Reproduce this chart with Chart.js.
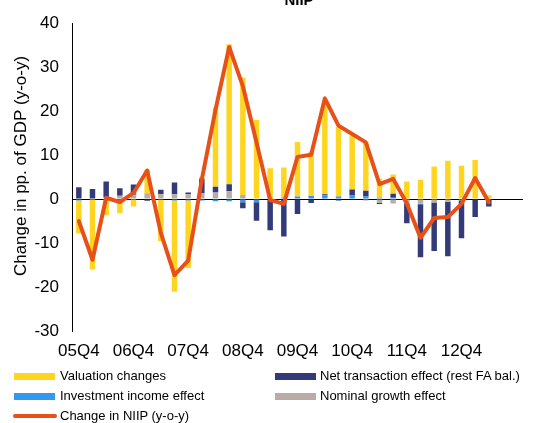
<!DOCTYPE html>
<html><head><meta charset="utf-8">
<script src="https://cdn.jsdelivr.net/npm/chart.js@4"></script>
<style>
html,body{margin:0;padding:0;background:#fff;}
#wrap{position:relative;width:545px;height:423px;overflow:hidden;}
canvas{position:absolute;left:0;top:0;}
.lt{position:absolute;font-family:"Liberation Sans",Arial,sans-serif;font-size:13px;color:#000;line-height:16px;white-space:nowrap;}
.sw{position:absolute;}
</style></head><body>
<div id="wrap">
<canvas id="c" width="545" height="423"></canvas>
<div class="sw" style="left:14px;top:373px;width:41px;height:7px;background:#FFD520"></div>
<div class="lt" style="left:60px;top:368px">Valuation changes</div>
<div class="sw" style="left:275px;top:373px;width:41px;height:7px;background:#323A78"></div>
<div class="lt" style="left:320px;top:368px">Net transaction effect (rest FA bal.)</div>
<div class="sw" style="left:14px;top:393px;width:41px;height:7px;background:#3399EE"></div>
<div class="lt" style="left:60px;top:388px">Investment income effect</div>
<div class="sw" style="left:275px;top:393px;width:41px;height:7px;background:#B8ADA6"></div>
<div class="lt" style="left:320px;top:388px">Nominal growth effect</div>
<div class="sw" style="left:13px;top:414px;width:44px;height:4px;border-radius:2px;background:#E8501A"></div>
<div class="lt" style="left:60px;top:408px">Change in NIIP (y-o-y)</div>
</div>
<script>
const quarters = ["05Q4","06Q1","06Q2","06Q3","06Q4","07Q1","07Q2","07Q3","07Q4","08Q1","08Q2","08Q3","08Q4","09Q1","09Q2","09Q3","09Q4","10Q1","10Q2","10Q3","10Q4","11Q1","11Q2","11Q3","11Q4","12Q1","12Q2","12Q3","12Q4","13Q1","13Q2","13Q3","13Q4"];
const tickLabels = ["05Q4","06Q4","07Q4","08Q4","09Q4","10Q4","11Q4","12Q4"];
const valuationChanges = [-7.5,-16.0,-3.7,-3.2,-1.7,5.3,-9.4,-20.8,-15.4,0.5,18.0,31.8,26.7,18.0,7.0,6.9,12.4,10.1,21.2,15.8,12.2,11.1,4.3,4.4,4.0,4.4,7.4,8.7,7.6,8.9,0.9,null,null];
const netTransactionEffect = [2.7,2.3,3.6,1.7,2.1,-0.4,1.0,2.7,0.4,3.3,1.3,1.6,-1.4,-4.2,-7.0,-8.5,-3.4,-0.9,0.3,-0.3,1.4,1.3,-0.2,0.9,-4.4,-12.0,-11.0,-12.4,-8.6,-4.0,-1.5,null,null];
const investmentIncomeEffect = [-0.3,0,0,0,0.4,0,-0.2,-0.3,-0.3,-0.3,-0.5,-0.5,-0.7,-0.7,-0.1,0.3,0.6,0.7,0.8,0.6,0.8,0.6,0.3,0.3,-0.2,-0.2,0,0,-0.1,-0.1,0,null,null];
const nominalGrowthEffect = [0,0,0.4,0.75,0.8,1.3,1.1,1.1,1.1,1.3,1.5,1.8,0.95,0,0,0,0,0,0,0,0,-0.3,-0.9,-1.0,-0.9,-1.0,-0.8,-0.6,-0.2,0,-0.2,null,null];
const changeInNIIP = [-5.0,-13.8,0.3,-0.7,1.4,6.5,-7.7,-17.3,-14.0,4.5,20.3,34.6,25.7,12.9,-0.2,-1.1,9.6,10.1,22.9,16.7,14.8,12.9,3.4,4.6,-1.0,-8.8,-4.3,-4.1,-1.1,4.8,-0.7,null,null];
const yTicks = [-30,-20,-10,0,10,20,30,40];

const FONT = '"Liberation Sans", Arial, sans-serif';
const textPlugin = {
  id: 'texts',
  afterDraw(chart) {
    const ctx = chart.ctx;
    ctx.save();
    ctx.fillStyle = '#000';
    ctx.font = 'bold 15px ' + FONT;
    ctx.textAlign = 'center';
    ctx.textBaseline = 'alphabetic';
    ctx.fillText('NIIP', 299, 5);
    ctx.font = '17px ' + FONT;
    ctx.translate(21, 166);
    ctx.rotate(-Math.PI / 2);
    ctx.textBaseline = 'middle';
    ctx.fillText('Change in pp. of GDP (y-o-y)', 0, 0);
    ctx.restore();
  }
};

const barCommon = {type: 'bar', stack: 'bars', barPercentage: 0.4, categoryPercentage: 1.0, order: 1};
new Chart(document.getElementById('c'), {
  data: {
    labels: quarters,
    datasets: [
      {type: 'line', label: 'Change in NIIP (y-o-y)', data: changeInNIIP, borderColor: '#E8501A', backgroundColor: '#E8501A', borderWidth: 4, pointRadius: 0, tension: 0, fill: false, borderJoinStyle: 'round', borderCapStyle: 'round', stack: 'line', order: 0},
      Object.assign({label: 'Nominal growth effect', data: nominalGrowthEffect, backgroundColor: '#B8ADA6'}, barCommon),
      Object.assign({label: 'Investment income effect', data: investmentIncomeEffect, backgroundColor: '#3399EE'}, barCommon),
      Object.assign({label: 'Net transaction effect (rest FA bal.)', data: netTransactionEffect, backgroundColor: '#323A78'}, barCommon),
      Object.assign({label: 'Valuation changes', data: valuationChanges, backgroundColor: '#FFD520'}, barCommon)
    ]
  },
  options: {
    responsive: false,
    animation: false,
    devicePixelRatio: 1,
    layout: {padding: {left: 0, right: 22, top: 22, bottom: 62}},
    plugins: {legend: {display: false}, tooltip: {enabled: false}, title: {display: false}},
    scales: {
      x: {
        stacked: true,
        grid: {display: false, drawTicks: false},
        border: {display: false},
        ticks: {autoSkip: false, maxRotation: 0, minRotation: 0, color: '#000', font: {family: FONT, size: 17}, padding: 10,
          callback: (v, i) => (tickLabels.includes(quarters[i]) ? quarters[i] : '')},
        afterFit: s => { s.height = 30; }
      },
      y: {
        stacked: true,
        min: -30, max: 40,
        afterBuildTicks: s => { s.ticks = yTicks.map(v => ({value: v})); },
        ticks: {color: '#000', font: {family: FONT, size: 17}, padding: 13},
        grid: {drawTicks: false, lineWidth: 1, color: c => (c.tick && c.tick.value === 0 ? '#000' : 'rgba(0,0,0,0)')},
        border: {display: true, color: '#000', width: 1},
        afterFit: s => { s.width = 72; }
      }
    }
  },
  plugins: [textPlugin]
});
</script>
</body></html>
